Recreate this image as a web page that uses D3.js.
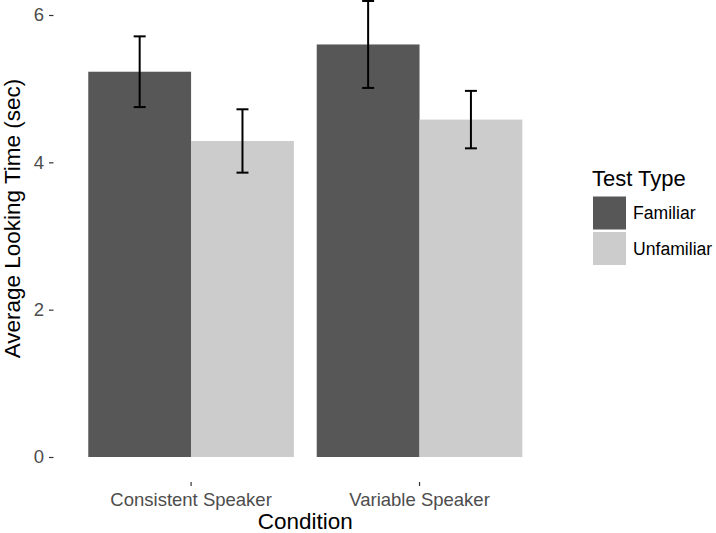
<!DOCTYPE html>
<html>
<head>
<meta charset="utf-8">
<script src="https://cdn.jsdelivr.net/npm/d3@7"></script>
<style>
  html, body { margin: 0; padding: 0; background: #fff; }
  svg { display: block; font-family: "Liberation Sans", Arial, Helvetica, sans-serif; }
</style>
</head>
<body>
<svg id="chart" width="716" height="533"></svg>
<script>
const categories = ["Consistent Speaker", "Variable Speaker"];
const testTypes = ["Familiar", "Unfamiliar"];
const meanFamiliar = [5.23, 5.60];
const meanUnfamiliar = [4.29, 4.58];
const seFamiliar = [0.48, 0.59];
const seUnfamiliar = [0.43, 0.39];
const yTicks = [0, 2, 4, 6];
const fillColors = ["#575757", "#CCCCCC"];

const data = [];
categories.forEach((c, i) => {
  data.push({cat: c, type: testTypes[0], mean: meanFamiliar[i], se: seFamiliar[i]});
  data.push({cat: c, type: testTypes[1], mean: meanUnfamiliar[i], se: seUnfamiliar[i]});
});

const svg = d3.select("#chart");
const panelLeft = 54, panelRight = 556.6, panelBottom = 482;

const x = d3.scaleBand().domain(categories).range([panelLeft, panelRight])
  .paddingInner(0.1).paddingOuter(0.15);
const xSub = d3.scaleBand().domain(testTypes).range([0, x.bandwidth()]).padding(0);
const y = d3.scaleLinear().domain([0, 6]).range([457, 15]);
const color = d3.scaleOrdinal().domain(testTypes).range(fillColors);

// bars
svg.append("g").selectAll("rect").data(data).join("rect")
  .attr("x", d => x(d.cat) + xSub(d.type))
  .attr("width", xSub.bandwidth())
  .attr("y", d => y(d.mean))
  .attr("height", d => y(0) - y(d.mean))
  .attr("fill", d => color(d.type));

// error bars
const capW = 12;
const eg = svg.append("g").attr("stroke", "#000").attr("stroke-width", 2).attr("fill", "none");
data.forEach(d => {
  const cx = x(d.cat) + xSub(d.type) + xSub.bandwidth() / 2;
  const y1 = y(d.mean + d.se), y0 = y(d.mean - d.se);
  eg.append("line").attr("x1", cx).attr("x2", cx).attr("y1", y1).attr("y2", y0);
  eg.append("line").attr("x1", cx - capW / 2).attr("x2", cx + capW / 2).attr("y1", y1).attr("y2", y1);
  eg.append("line").attr("x1", cx - capW / 2).attr("x2", cx + capW / 2).attr("y1", y0).attr("y2", y0);
});

// y axis
const yAxis = svg.append("g").attr("transform", `translate(${panelLeft - 0.5},0)`)
  .call(d3.axisLeft(y).tickValues(yTicks).tickSize(4.5).tickPadding(5).tickFormat(d3.format("d")));
yAxis.select(".domain").remove();
yAxis.selectAll(".tick line").attr("stroke", "#333333").attr("stroke-width", 1.2);
yAxis.selectAll(".tick text").attr("fill", "#4D4D4D").style("font-size", "18.5px")
  .attr("font-family", null);

// x axis
const xAxis = svg.append("g").attr("transform", `translate(0,${panelBottom})`)
  .call(d3.axisBottom(x).tickSize(4).tickPadding(7));
xAxis.select(".domain").remove();
xAxis.selectAll(".tick line").attr("stroke", "#333333").attr("stroke-width", 1.2);
xAxis.selectAll(".tick text").attr("fill", "#4D4D4D").style("font-size", "18.5px")
  .attr("font-family", null);

// axis titles
svg.append("text").attr("x", (panelLeft + panelRight) / 2).attr("y", 528.5)
  .attr("text-anchor", "middle").style("font-size", "22.5px").attr("fill", "#000")
  .text("Condition");
svg.append("text").attr("transform", "translate(19.5,218.5) rotate(-90)")
  .attr("text-anchor", "middle").style("font-size", "22.5px").attr("fill", "#000")
  .text("Average Looking Time (sec)");

// legend
const lg = svg.append("g");
lg.append("text").attr("x", 592).attr("y", 186).style("font-size", "22px").attr("fill", "#000")
  .text("Test Type");
testTypes.forEach((t, i) => {
  const ky = 196.5 + i * 35.5;
  lg.append("rect").attr("x", 593).attr("y", ky).attr("width", 33).attr("height", 33)
    .attr("fill", color(t));
  lg.append("text").attr("x", 633).attr("y", ky + 16.5).attr("dy", "0.36em")
    .style("font-size", "17.6px").attr("fill", "#000").text(t);
});
</script>
</body>
</html>
